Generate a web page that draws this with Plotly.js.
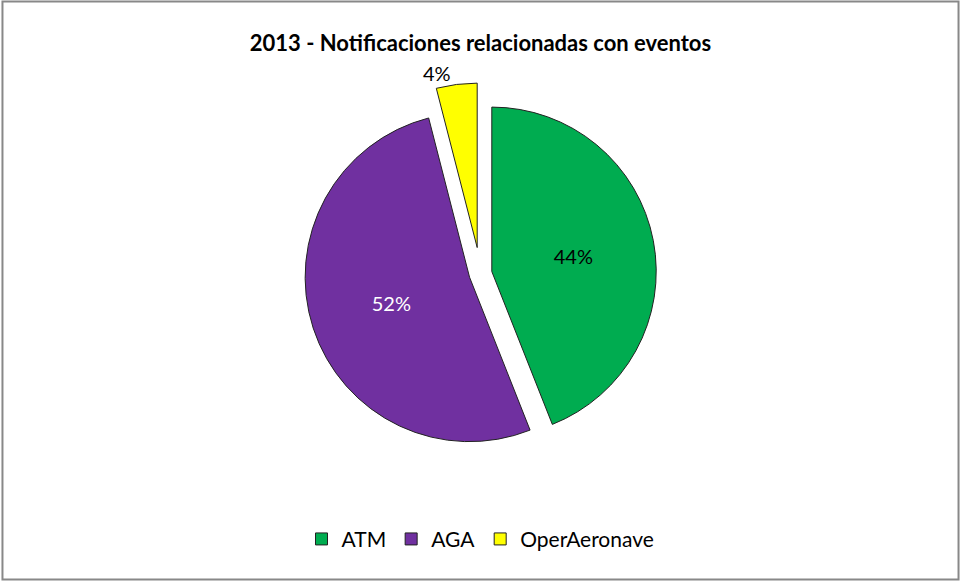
<!DOCTYPE html>
<html>
<head>
<meta charset="utf-8">
<script src="https://cdn.plot.ly/plotly-3.0.1.min.js"></script>
<style>html,body{margin:0;padding:0;background:#fff;}#chart{width:961px;height:581px;}</style>
</head>
<body>
<div id="chart"></div>
<script>
var categories = ["ATM", "AGA", "OperAeronave"];
var percentValues = [44, 52, 4];
var sliceColors = ["#00AC50", "#7030A0", "#FFFF00"];
var labelColors = ["#000000", "#FFFFFF", "#000000"];
var labelPositions = ["inside", "inside", "outside"];

var trace = {
  type: "pie",
  labels: categories,
  values: percentValues,
  sort: false,
  direction: "clockwise",
  rotation: 0,
  pull: [0.07, 0.07, 0.16],
  marker: { colors: sliceColors, line: { color: "#222222", width: 1 } },
  texttemplate: "%{value}%",
  textposition: labelPositions,
  insidetextorientation: "horizontal",
  textfont: { family: "Lato, 'Open Sans', sans-serif", size: 20, color: labelColors },
  hoverinfo: "label+percent",
  domain: { x: [0.15, 0.85], y: [0.19, 0.87] }
};

var layout = {
  width: 961,
  height: 581,
  margin: { l: 10, r: 10, t: 10, b: 10 },
  paper_bgcolor: "#ffffff",
  title: {
    text: "<b>2013 - Notificaciones relacionadas con eventos</b>",
    font: { family: "Lato, 'Open Sans', sans-serif", size: 22, color: "#000000" },
    x: 0.5, xanchor: "center", y: 0.925, yanchor: "middle"
  },
  showlegend: true,
  legend: {
    orientation: "h",
    x: 0.5, xanchor: "center",
    y: 0.02, yanchor: "bottom",
    font: { family: "Lato, 'Open Sans', sans-serif", size: 21, color: "#000000" },
    traceorder: "normal"
  },
  shapes: [{
    type: "rect", xref: "paper", yref: "paper",
    x0: -0.008, x1: 1.008, y0: -0.015, y1: 1.015,
    line: { color: "#888888", width: 2 }
  }]
};

Plotly.newPlot("chart", [trace], layout, { displayModeBar: false, staticPlot: true });
</script>
</body>
</html>
